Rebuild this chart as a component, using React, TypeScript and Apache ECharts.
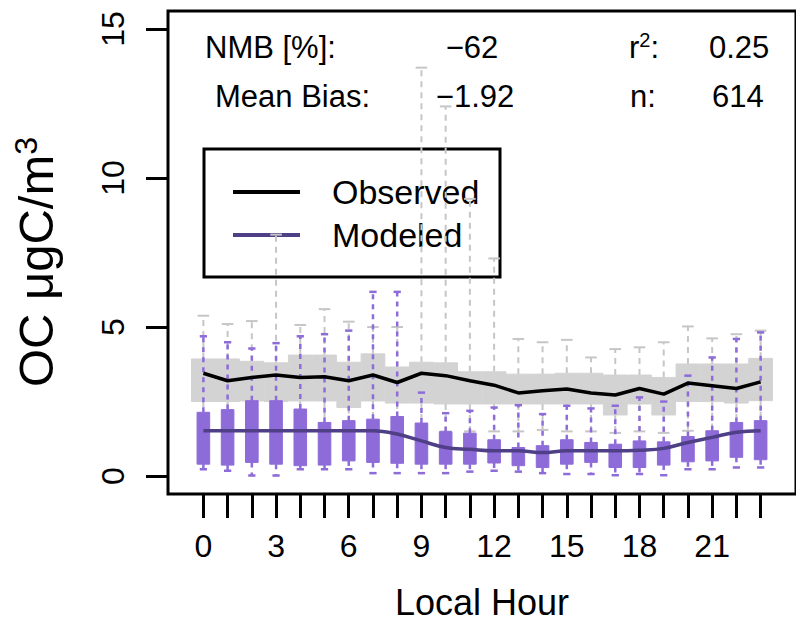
import React, { useEffect, useRef } from "react";
import * as echarts from "echarts";

// ---- Data ----
const hours = [0, 1, 2, 3, 4, 5, 6, 7, 8, 9, 10, 11, 12, 13, 14, 15, 16, 17, 18, 19, 20, 21, 22, 23];
const xTickLabels = [0, 3, 6, 9, 12, 15, 18, 21];
const yTickLabels = [0, 5, 10, 15];

// Observed (gray boxes, black median line)
const obsQ1 = [2.5, 2.5, 2.52, 2.5, 2.52, 2.52, 2.3, 2.52, 2.45, 2.45, 2.42, 2.42, 2.42, 2.42, 2.42, 2.42, 2.42, 2.05, 2.42, 2.05, 2.5, 2.5, 2.45, 2.53];
const obsQ3 = [3.93, 3.93, 3.85, 3.8, 4.06, 4.06, 3.82, 4.1, 3.66, 3.82, 3.8, 3.5, 3.5, 3.42, 3.42, 3.45, 3.45, 3.39, 3.39, 3.31, 3.76, 3.76, 3.76, 3.95];
const obsLower = [1.4, 1.4, 1.4, 1.4, 1.4, 1.4, 1.4, 1.4, 1.4, 1.4, 1.5, 1.5, 1.5, 1.5, 1.55, 1.5, 1.5, 1.45, 1.5, 1.45, 1.52, 1.5, 1.5, 1.5];
const obsUpper = [5.38, 5.1, 5.2, 8.1, 5.07, 5.6, 5.18, 5.0, 5.0, 13.7, 12.4, 9.3, 7.3, 4.6, 4.49, 4.57, 3.98, 4.26, 4.32, 4.49, 5.02, 4.62, 4.76, 4.88];
const obsMedian = [3.45, 3.2, 3.31, 3.39, 3.31, 3.33, 3.2, 3.39, 3.14, 3.45, 3.37, 3.2, 3.05, 2.79, 2.86, 2.92, 2.79, 2.72, 2.94, 2.75, 3.12, 3.03, 2.94, 3.16];

// Modeled (purple boxes, dark purple line)
const modQ1 = [0.4, 0.37, 0.46, 0.4, 0.35, 0.37, 0.51, 0.46, 0.43, 0.4, 0.4, 0.4, 0.44, 0.35, 0.29, 0.4, 0.46, 0.29, 0.29, 0.37, 0.48, 0.51, 0.63, 0.55];
const modQ3 = [2.14, 2.23, 2.53, 2.53, 2.25, 1.8, 1.86, 1.91, 2.0, 1.78, 1.49, 1.44, 1.22, 0.96, 1.02, 1.22, 1.13, 1.07, 1.18, 1.15, 1.33, 1.52, 1.8, 1.86];
const modLower = [0.23, 0.18, 0.02, 0.02, 0.23, 0.23, 0.23, 0.1, 0.1, 0.1, 0.1, 0.15, 0.18, 0.15, 0.1, 0.07, 0.07, 0.03, 0.07, 0.03, 0.23, 0.23, 0.29, 0.29];
const modUpper = [4.69, 4.49, 4.28, 4.46, 4.69, 4.76, 4.88, 6.18, 6.18, 2.8, 2.11, 2.19, 2.3, 2.38, 2.08, 2.36, 2.27, 2.36, 2.64, 2.5, 3.37, 3.98, 4.6, 4.82];
const modLine = [1.52, 1.52, 1.52, 1.52, 1.52, 1.52, 1.52, 1.52, 1.41, 1.18, 0.96, 0.9, 0.85, 0.85, 0.79, 0.85, 0.85, 0.85, 0.87, 0.93, 1.13, 1.3, 1.47, 1.52];

const FONT = "'Liberation Sans', Arial, Helvetica, sans-serif";
const GRAY_BOX = "#d3d3d3";
const GRAY_WHISK = "#c6c6c6";
const PURPLE = "#8d6bd8";
const PURPLE_LINE = "#4e3f86";

function makeBoxRenderer(opts: {
  boxWidth: number;
  capWidth: number;
  fill: string;
  whisker: string;
  whiskerWidth: number;
  dash: number[];
  capLineWidth: number;
}) {
  return (params: any, api: any) => {
    const h = api.value(0);
    const q1 = api.value(1);
    const q3 = api.value(2);
    const lo = api.value(3);
    const hi = api.value(4);
    const unit = api.size([1, 0])[0];
    const [cx, yq1] = api.coord([h, q1]);
    const yq3 = api.coord([h, q3])[1];
    const ylo = api.coord([h, lo])[1];
    const yhi = api.coord([h, hi])[1];
    const bw = unit * opts.boxWidth;
    const cw = unit * opts.capWidth;
    const ws = { stroke: opts.whisker, lineWidth: opts.whiskerWidth, lineDash: opts.dash };
    const cs = { stroke: opts.whisker, lineWidth: opts.capLineWidth };
    return {
      type: "group",
      children: [
        { type: "line", shape: { x1: cx, y1: yq3, x2: cx, y2: yhi }, style: ws },
        { type: "line", shape: { x1: cx, y1: yq1, x2: cx, y2: ylo }, style: ws },
        { type: "line", shape: { x1: cx - cw / 2, y1: yhi, x2: cx + cw / 2, y2: yhi }, style: cs },
        { type: "line", shape: { x1: cx - cw / 2, y1: ylo, x2: cx + cw / 2, y2: ylo }, style: cs },
        {
          type: "rect",
          shape: { x: cx - bw / 2, y: yq3, width: bw, height: yq1 - yq3 },
          style: { fill: opts.fill, stroke: opts.fill, lineWidth: 1 },
        },
      ],
    };
  };
}

export default function App() {
  const ref = useRef<HTMLDivElement>(null);

  useEffect(() => {
    if (!ref.current) return;
    const chart = echarts.init(ref.current, undefined, { renderer: "svg" });

    const obsData = hours.map((h, i) => [h, obsQ1[i], obsQ3[i], obsLower[i], obsUpper[i]]);
    const modData = hours.map((h, i) => [h, modQ1[i], modQ3[i], modLower[i], modUpper[i]]);

    const option: any = {
      animation: false,
      backgroundColor: "#ffffff",
      textStyle: { fontFamily: FONT },
      grid: {
        left: 168,
        top: 11,
        width: 632,
        height: 483,
        show: true,
        borderColor: "#000",
        borderWidth: 3,
        backgroundColor: "transparent",
        containLabel: false,
      },
      xAxis: {
        type: "value",
        min: -1.46,
        max: 24.46,
        name: "Local Hour",
        nameLocation: "middle",
        nameGap: 90,
        nameTextStyle: { fontSize: 36, color: "#000", fontFamily: FONT },
        axisLine: { show: false, onZero: false },
        axisTick: {
          show: true,
          customValues: hours,
          length: 24,
          lineStyle: { color: "#000", width: 3 },
        },
        axisLabel: {
          customValues: xTickLabels,
          fontSize: 32,
          color: "#000",
          margin: 36,
          fontFamily: FONT,
        },
        splitLine: { show: false },
      },
      yAxis: {
        type: "value",
        min: -0.6,
        max: 15.6,
        axisLine: { show: false, onZero: false },
        axisTick: {
          show: true,
          customValues: yTickLabels,
          length: 22,
          lineStyle: { color: "#000", width: 3 },
        },
        axisLabel: {
          customValues: yTickLabels,
          rotate: 90,
          fontSize: 32,
          color: "#000",
          margin: 39,
          fontFamily: FONT,
        },
        splitLine: { show: false },
      },
      graphic: [
        // y axis title
        {
          type: "text",
          x: 36,
          y: 262,
          rotation: Math.PI / 2,
          style: {
            text: "OC μgC/m{sup|3}",
            font: `49px ${FONT}`,
            fill: "#000",
            textAlign: "center",
            textVerticalAlign: "middle",
            rich: {
              sup: { fontSize: 32, fontFamily: FONT, fill: "#000", verticalAlign: "top", padding: [0, 0, 20, 0] },
            },
          },
        },
        // stats
        { type: "text", x: 205, y: 47, style: { text: "NMB [%]:", font: `31px ${FONT}`, fill: "#000", textAlign: "left", textVerticalAlign: "middle" } },
        { type: "text", x: 472, y: 47, style: { text: "−62", font: `31px ${FONT}`, fill: "#000", textAlign: "center", textVerticalAlign: "middle" } },
        { type: "text", x: 215, y: 96, style: { text: "Mean Bias:", font: `31px ${FONT}`, fill: "#000", textAlign: "left", textVerticalAlign: "middle" } },
        { type: "text", x: 475, y: 96, style: { text: "−1.92", font: `31px ${FONT}`, fill: "#000", textAlign: "center", textVerticalAlign: "middle" } },
        {
          type: "text",
          x: 629,
          y: 47,
          style: {
            text: "r{sup|2}:",
            font: `31px ${FONT}`,
            fill: "#000",
            textAlign: "left",
            textVerticalAlign: "middle",
            rich: { sup: { fontSize: 20, fontFamily: FONT, fill: "#000", verticalAlign: "top", padding: [0, 0, 14, 0] } },
          },
        },
        { type: "text", x: 709, y: 47, style: { text: "0.25", font: `31px ${FONT}`, fill: "#000", textAlign: "left", textVerticalAlign: "middle" } },
        { type: "text", x: 630, y: 96, style: { text: "n:", font: `31px ${FONT}`, fill: "#000", textAlign: "left", textVerticalAlign: "middle" } },
        { type: "text", x: 712, y: 96, style: { text: "614", font: `31px ${FONT}`, fill: "#000", textAlign: "left", textVerticalAlign: "middle" } },
        // legend
        { type: "rect", shape: { x: 204, y: 149, width: 296, height: 128 }, style: { fill: "none", stroke: "#000", lineWidth: 3 } },
        { type: "line", shape: { x1: 233, y1: 192, x2: 300, y2: 192 }, style: { stroke: "#000", lineWidth: 4 } },
        { type: "line", shape: { x1: 233, y1: 235, x2: 300, y2: 235 }, style: { stroke: PURPLE_LINE, lineWidth: 4 } },
        { type: "text", x: 332, y: 192, style: { text: "Observed", font: `34px ${FONT}`, fill: "#000", textAlign: "left", textVerticalAlign: "middle" } },
        { type: "text", x: 332, y: 235, style: { text: "Modeled", font: `34px ${FONT}`, fill: "#000", textAlign: "left", textVerticalAlign: "middle" } },
      ],
      series: [
        {
          type: "custom",
          name: "Observed boxes",
          renderItem: makeBoxRenderer({
            boxWidth: 0.98,
            capWidth: 0.48,
            fill: GRAY_BOX,
            whisker: GRAY_WHISK,
            whiskerWidth: 2,
            dash: [6, 5],
            capLineWidth: 2,
          }),
          encode: { x: 0, y: [1, 2, 3, 4] },
          data: obsData,
          clip: true,
          z: 1,
        },
        {
          type: "custom",
          name: "Modeled boxes",
          renderItem: makeBoxRenderer({
            boxWidth: 0.52,
            capWidth: 0.3,
            fill: PURPLE,
            whisker: PURPLE,
            whiskerWidth: 2.5,
            dash: [5, 5],
            capLineWidth: 2.5,
          }),
          encode: { x: 0, y: [1, 2, 3, 4] },
          data: modData,
          clip: true,
          z: 2,
        },
        {
          type: "line",
          name: "Observed",
          data: hours.map((h, i) => [h, obsMedian[i]]),
          symbol: "none",
          lineStyle: { color: "#000", width: 3.5 },
          z: 3,
        },
        {
          type: "line",
          name: "Modeled",
          data: hours.map((h, i) => [h, modLine[i]]),
          symbol: "none",
          smooth: 0.4,
          lineStyle: { color: PURPLE_LINE, width: 3.5 },
          z: 4,
        },
      ],
    };

    chart.setOption(option);
    return () => chart.dispose();
  }, []);

  return (
    <div
      ref={ref}
      style={{ position: "fixed", left: 0, top: 0, width: 796, height: 633, background: "#fff" }}
    />
  );
}
